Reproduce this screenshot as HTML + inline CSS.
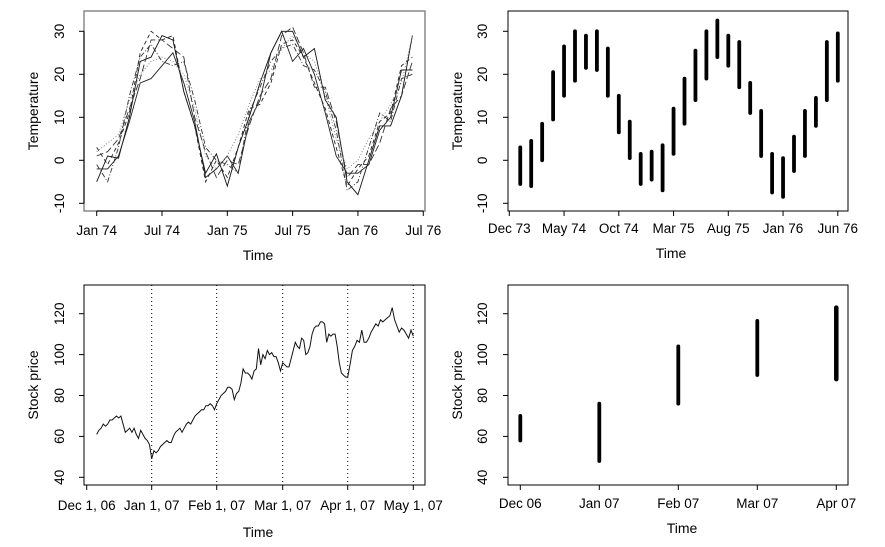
<!DOCTYPE html>
<html><head><meta charset="utf-8"><style>
html,body{margin:0;padding:0;background:#fff;width:885px;height:547px;overflow:hidden}
svg text{font-family:"Liberation Sans",Arial,sans-serif;fill:#000}
</style></head><body>
<svg id="c" width="885" height="547" xmlns="http://www.w3.org/2000/svg">
<g id="tl"></g>
<g id="tr"></g>
<g id="bl"></g>
<g id="br"></g>
</svg>
<script>
// ---- Top-left data: monthly temperature series Jan 74 - Jun 76
const tempSeriesA = [-5,1,0.5,10,23,24,29,28,16,8,-3,1.5,-6,3,10,18,25,30,30,24,26,14,10,-5,-8,0,8,8,15,29];
const tempSeriesB = [-2,-2,1,9,18,19,22,25,18,9,-4,-2,1,-3,9,14,25,30,23,26,20,11,1,-3,-3,-1,7,10,21,21];
const tempSeriesC = [3,-1,4,11,25,30,28,29,16,8,-5,0,-4,3,12,13,18,27,28,24,18,12,3,-6,-2,1,9,11,22,24];
const tempSeriesD = [2,4,6,14,20,23,24,23,20,12,1,-2,1,6,13,19,21,26,29,25,23,15,5,-2,0,5,9,13,18,29];
const tempSeriesE = [-1,-5,3,15,24,27,23,22,23,14,3,0,-1,-3,11,17,23,26,27,22,21,16,7,-7,-5,3,11,9,19,20];
const tempSeriesF = [1,2,5,12,19,28,28,26,24,10,2,-4,0,-1,8,15,19,29,31,25,17,17,9,-4,-1,-1,4,12,15,23];
const tempTicks = [-10,0,10,20,30];
const tlXLabels = ["Jan 74","Jul 74","Jan 75","Jul 75","Jan 76","Jul 76"];
// ---- Top-right data: monthly ranges
const rangeMax = [3,4.5,8.5,20.5,26.5,30,29,30,26,15,9,1.5,2,3.5,12,19,25.5,30,32.5,29,27.5,18,11.5,1.5,0.5,5.5,11.5,14.5,27.5,29.5];
const rangeMin = [-5.5,-6,0,9.5,15,18.5,21.5,21,15,6.5,0.5,-5.5,-4.5,-7,1.5,8.5,14,19,24,22,17,11,1,-7.5,-8.5,-2.5,1,8,14,18.5];
const trXLabels = ["Dec 73","May 74","Oct 74","Mar 75","Aug 75","Jan 76","Jun 76"];
// ---- Bottom-left data: daily stock prices by month
const stockDec = [61,63,64,66,65,66,68,68,69,70,69,70,66,62,63,64,62,64,61,59,63,61,59,58,56];
const stockJan = [49,53,52,53,55,56,57,58,57,57,60,62,63,64,62,64,66,67,66,68,70,71,72,73,73,75,75,76,75,73];
const stockFeb = [76,78,80,81,82,84,84,83,78,81,82,86,93,91,91,90,88,92,93,103,95,100,98,102,100,101,99,99,96,92];
const stockMar = [96,95,94,94,98,102,106,104,103,108,107,100,101,104,110,113,114,114,116,116,115,106,110,109,110,110,104,96,91,90,89];
const stockApr = [89,95,102,104,107,106,112,106,106,108,111,113,115,114,117,116,117,118,119,123,117,114,111,113,112,110,108,112,109];
const stockTicks = [40,60,80,100,120];
const blXLabels = ["Dec 1, 06","Jan 1, 07","Feb 1, 07","Mar 1, 07","Apr 1, 07","May 1, 07"];
// ---- Bottom-right data: monthly stock ranges
const monthLabels = ["Dec 06","Jan 07","Feb 07","Mar 07","Apr 07"];
const stockMax = [70,76,104,116.5,123];
const stockMin = [58,48,76,90,88];

const NS="http://www.w3.org/2000/svg";
function mk(parent,tag,attrs,text){const e=document.createElementNS(NS,tag);for(const k in attrs)e.setAttribute(k,attrs[k]);if(text!==undefined)e.textContent=text;parent.appendChild(e);return e;}

const yTemp = v => 160.3 - v*4.3;
const yStock = v => 477.3 - (v-40)*2.045;
const xTL = m => 96.7 + m*10.885;
const xTR = m => 509.3 + m*10.95;
const blTickX = [86.7,151.7,216.7,282.7,347.7,413.3];
const xBR = i => 520.3 + i*79;

function yAxis(g,x,ticks,ys,labelX,title,titleX,y0,y1){
  mk(g,'line',{x1:x,y1:ys(ticks[0]),x2:x,y2:ys(ticks[ticks.length-1]),stroke:'#000'});
  ticks.forEach(t=>{
    const tk=mk(g,'line',{x1:x-5,y1:ys(t),x2:x,y2:ys(t),stroke:'#000'});
    
    
    const l=mk(g,'text',{x:labelX,y:ys(t),'font-size':13.5,'text-anchor':'middle',transform:`rotate(-90 ${labelX} ${ys(t)})`},String(t));
    
    
  });
  const tt=mk(g,'text',{x:titleX,y:(y0+y1)/2,'font-size':14,'text-anchor':'middle',transform:`rotate(-90 ${titleX} ${(y0+y1)/2})`},title);
  
  
}
function xAxis(g,xs,labels,yAx,labelY,titleX,titleY){
  mk(g,'line',{x1:xs[0],y1:yAx,x2:xs[xs.length-1],y2:yAx,stroke:'#000'});
  xs.forEach((x,i)=>{
    const tk=mk(g,'line',{x1:x,y1:yAx,x2:x,y2:yAx+5,stroke:'#000'});
    
    
    const l=mk(g,'text',{x:x,y:labelY,'font-size':13.5,'text-anchor':'middle'},labels[i]);
    
    
  });
  const t=mk(g,'text',{x:titleX,y:titleY,'font-size':14,'text-anchor':'middle'},'Time');
  
  
}

(function(){
  const g=document.getElementById('tl');
  const box=mk(g,'rect',{x:84,y:11,width:341,height:200,fill:'none',stroke:'#888','stroke-width':1.5});
  
  
  const series=[tempSeriesA,tempSeriesB,tempSeriesC,tempSeriesD,tempSeriesE,tempSeriesF];
  const dashes=['', '', '4,3', '1,2', '5,2,1,2', '7,3'];
  const colors=['#111','#222','#222','#777','#333','#333'];
  series.forEach((s,si)=>{
    const pts=s.map((v,i)=>xTL(i).toFixed(1)+','+yTemp(v).toFixed(1)).join(' ');
    const p=mk(g,'polyline',{points:pts,fill:'none',stroke:colors[si],'stroke-width':0.9,'stroke-dasharray':dashes[si]});
    
    
  });
  yAxis(g,84,tempTicks,yTemp,64,'Temperature',38,11,211);
  xAxis(g,tlXLabels.map((_,i)=>xTL(i*6)),tlXLabels,211,235,258,260);
})();

(function(){
  const g=document.getElementById('tr');
  const box=mk(g,'rect',{x:508,y:11,width:340,height:200,fill:'none',stroke:'#000','stroke-width':1});
  
  
  rangeMax.forEach((mx,i)=>{
    const b=mk(g,'line',{x1:xTR(i+1),y1:yTemp(mx),x2:xTR(i+1),y2:yTemp(rangeMin[i]),stroke:'#000','stroke-width':3.8,'stroke-linecap':'round'});
    
    
  });
  yAxis(g,508,tempTicks,yTemp,487,'Temperature',462,11,211);
  xAxis(g,trXLabels.map((_,i)=>xTR(i*5)),trXLabels,211,233,671,258);
})();

(function(){
  const g=document.getElementById('bl');
  const box=mk(g,'rect',{x:84,y:285,width:341,height:200,fill:'none',stroke:'#000','stroke-width':1});
  
  
  [1,2,3,4,5].forEach(i=>{
    const v=mk(g,'line',{x1:blTickX[i],y1:285,x2:blTickX[i],y2:485,stroke:'#000','stroke-width':1,'stroke-dasharray':'1,3'});
    
    
  });
  const months=[stockDec,stockJan,stockFeb,stockMar,stockApr];
  const pts=[];
  months.forEach((arr,mi)=>{
    let x0=blTickX[mi], x1=blTickX[mi+1];
    if(mi===0) x0=96.7;
    arr.forEach((v,i)=>{
      const x=x0+(x1-x0)*(i/(mi===4?arr.length-1:arr.length));
      pts.push(x.toFixed(1)+','+yStock(v).toFixed(1));
    });
  });
  const p=mk(g,'polyline',{points:pts.join(' '),fill:'none',stroke:'#111','stroke-width':1});
  
  
  yAxis(g,84,stockTicks,yStock,64,'Stock price',38,285,485);
  xAxis(g,blTickX,blXLabels,485,510,258,537);
})();

(function(){
  const g=document.getElementById('br');
  const box=mk(g,'rect',{x:508,y:285,width:340,height:200,fill:'none',stroke:'#000','stroke-width':1});
  
  
  stockMax.forEach((mx,i)=>{
    const b=mk(g,'line',{x1:xBR(i),y1:yStock(mx),x2:xBR(i),y2:yStock(stockMin[i]),stroke:'#000','stroke-width':i===4?4.5:3.8,'stroke-linecap':'round'});
    
    
  });
  yAxis(g,508,stockTicks,yStock,487,'Stock price',462,285,485);
  xAxis(g,monthLabels.map((_,i)=>xBR(i)),monthLabels,485,508,682,533);
})();
</script>
</body></html>
